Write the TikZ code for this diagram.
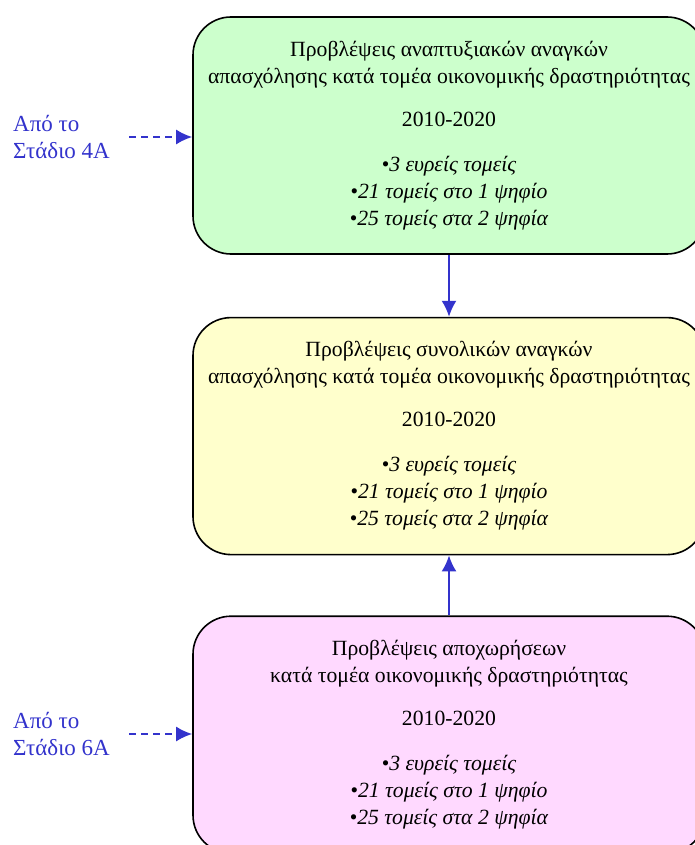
\documentclass[tikz,border=0pt]{standalone}
\usepackage{fontspec}
\setmainfont{Liberation Serif}
\usepackage{xcolor}
\usepackage{tikz}
\usetikzlibrary{arrows.meta,positioning}

\definecolor{greenbox}{HTML}{CCFFCC}
\definecolor{yellowbox}{HTML}{FFFFCC}
\definecolor{pinkbox}{HTML}{FFD9FF}
\definecolor{linkblue}{HTML}{3333CC}

\begin{document}
\begin{tikzpicture}[x=1pt, y=-1pt,
    stage/.style={rectangle, rounded corners=38pt, draw=black, line width=1.6pt, minimum width=512pt, minimum height=237pt, align=center, font=\fontsize{21.7}{27}\selectfont},
    source/.style={align=left, anchor=west, text=linkblue, font=\fontsize{23}{27}\selectfont, inner sep=0pt},
    arrow/.style={-{Latex[length=16pt,width=15pt]}, line width=2pt, draw=linkblue},
    dasharrow/.style={arrow, dash pattern=on 7pt off 5pt, shorten <=19pt}
]
\useasboundingbox (0,0) rectangle (695,845);

\node[stage, fill=greenbox] (dev) at (449,135.5) {Προβλέψεις αναπτυξιακών αναγκών\\απασχόλησης κατά τομέα οικονομικής δραστηριότητας\\[16pt]2010-2020\\[18pt]\textit{•3 ευρείς τομείς}\\\textit{•21 τομείς στο 1 ψηφίο}\\\textit{•25 τομείς στα 2 ψηφία}};
\node[stage, fill=yellowbox, below=62pt of dev] (total) {Προβλέψεις συνολικών αναγκών\\απασχόλησης κατά τομέα οικονομικής δραστηριότητας\\[16pt]2010-2020\\[18pt]\textit{•3 ευρείς τομείς}\\\textit{•21 τομείς στο 1 ψηφίο}\\\textit{•25 τομείς στα 2 ψηφία}};
\node[stage, fill=pinkbox, below=60pt of total] (retire) {Προβλέψεις αποχωρήσεων\\κατά τομέα οικονομικής δραστηριότητας\\[16pt]2010-2020\\[18pt]\textit{•3 ευρείς τομείς}\\\textit{•21 τομείς στο 1 ψηφίο}\\\textit{•25 τομείς στα 2 ψηφία}};

\node[source] (from4) at (13,137) {Από το\\Στάδιο 4Α};
\node[source] (from6) at (13,734) {Από το\\Στάδιο 6Α};

\draw[arrow] (dev) -- (total);
\draw[arrow] (retire) -- (total);
\draw[dasharrow] (from4.east) -- (from4.east -| dev.west);
\draw[dasharrow] (from6.east) -- (from6.east -| retire.west);
\end{tikzpicture}
\end{document}
